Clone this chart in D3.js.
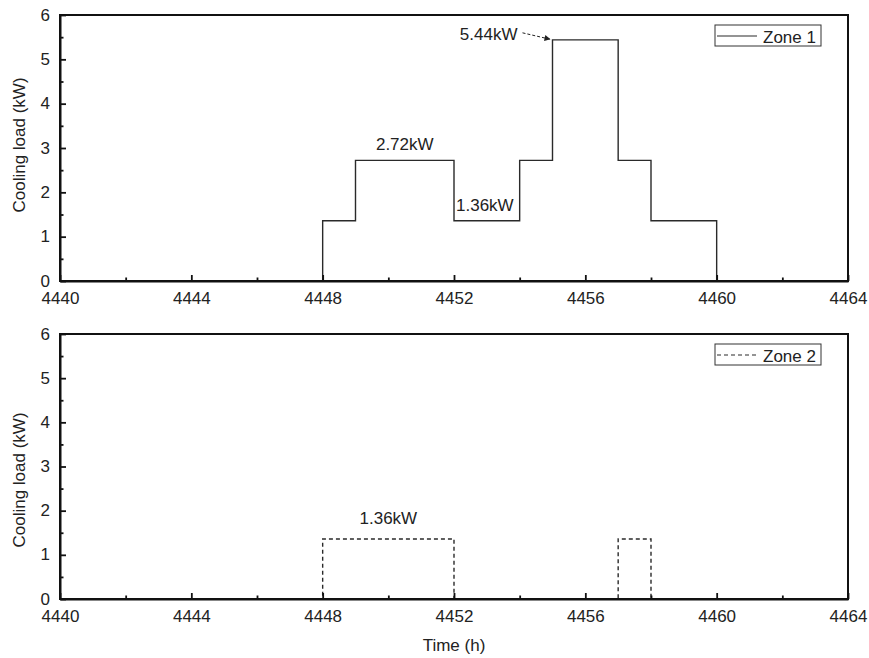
<!DOCTYPE html>
<html>
<head>
<meta charset="utf-8">
<script src="https://cdn.jsdelivr.net/npm/d3@7"></script>
<style>
  body { margin: 0; background: #fff; }
  svg text { font-family: "Liberation Sans", Arial, sans-serif; fill: #222; }
</style>
</head>
<body>
<svg width="869" height="658"></svg>
<script>
// hourly time stamps and cooling load of each zone (kW), held until next hour
var hours = d3.range(4440, 4465);
var zone1Load = [0,0,0,0,0,0,0,0,1.36,2.72,2.72,2.72,1.36,1.36,2.72,5.44,5.44,2.72,1.36,1.36,0,0,0,0,0];
var zone2Load = [0,0,0,0,0,0,0,0,1.36,1.36,1.36,1.36,0,0,0,0,0,1.36,0,0,0,0,0,0,0];
var xMajorTicks = [4440, 4444, 4448, 4452, 4456, 4460, 4464];
var xMinorTicks = [4442, 4446, 4450, 4454, 4458, 4462];
var yMajorTicks = [0, 1, 2, 3, 4, 5, 6];
var yMinorTicks = [0.5, 1.5, 2.5, 3.5, 4.5, 5.5];

var svg = d3.select("svg"),
    left = 60, right = 848,
    width = right - left;

var x = d3.scaleLinear().domain([4440, 4464]).range([0, width]);

function drawPanel(top, height, values, dashed, legendText, labelY, notes) {
    var g = svg.append("g").attr("transform", "translate(" + left + "," + top + ")");
    var y = d3.scaleLinear().domain([0, 6]).range([height, 0]);

    var line = d3.line()
        .x(function(d) { return x(d.t); })
        .y(function(d) { return y(d.v); })
        .curve(d3.curveStepAfter);
    var data = hours.map(function(t, i) { return {t: t, v: values[i]}; });

    g.append("path")
        .datum(data)
        .attr("fill", "none")
        .attr("stroke", "#2a2a2a")
        .attr("stroke-width", 1.4)
        .attr("stroke-dasharray", dashed ? "4,3" : null)
        .attr("d", line);

    // frame (top and right)
    g.append("rect")
        .attr("width", width).attr("height", height)
        .attr("fill", "none").attr("stroke", "#111").attr("stroke-width", 2);

    // x axis
    var xa = g.append("g").attr("transform", "translate(0," + height + ")")
        .call(d3.axisBottom(x).tickValues(xMajorTicks).tickFormat(d3.format("d"))
            .tickSizeInner(-6).tickSizeOuter(0).tickPadding(11));
    g.append("g").attr("transform", "translate(0," + height + ")")
        .call(d3.axisBottom(x).tickValues(xMinorTicks).tickFormat("")
            .tickSizeInner(-3.5).tickSizeOuter(0))
        .select(".domain").remove();

    // y axis
    var ya = g.append("g")
        .call(d3.axisLeft(y).tickValues(yMajorTicks).tickFormat(d3.format("d"))
            .tickSizeInner(-6).tickSizeOuter(0).tickPadding(10));
    g.append("g")
        .call(d3.axisLeft(y).tickValues(yMinorTicks).tickFormat("")
            .tickSizeInner(-3.5).tickSizeOuter(0))
        .select(".domain").remove();

    svg.selectAll(".domain").attr("stroke", "#111").attr("stroke-width", 2);
    svg.selectAll(".tick line").attr("stroke", "#111").attr("stroke-width", 1.8);
    xa.selectAll("text").attr("font-size", 17).attr("font-family", null);
    ya.selectAll("text").attr("font-size", 17).attr("font-family", null).attr("dy", "0.3em");

    svg.append("text")
        .attr("transform", "translate(25," + labelY + ") rotate(-90)")
        .attr("text-anchor", "middle")
        .attr("font-size", 17)
        .text("Cooling load (kW)");

    // legend
    var lg = g.append("g").attr("transform", "translate(" + (width - 133) + ",10)");
    lg.append("rect").attr("width", 106).attr("height", 21)
        .attr("fill", "#fff").attr("stroke", "#333").attr("stroke-width", 1);
    lg.append("line").attr("x1", 2).attr("x2", 42).attr("y1", 11).attr("y2", 11)
        .attr("stroke", "#2a2a2a").attr("stroke-width", 1.2)
        .attr("stroke-dasharray", dashed ? "4,3" : null);
    lg.append("text").attr("x", 48).attr("y", 17.5).attr("font-size", 17).text(legendText);

    notes.forEach(function(n) {
        g.append("text")
            .attr("x", x(n.t) + n.dx).attr("y", y(n.v) + n.dy)
            .attr("text-anchor", n.anchor)
            .attr("font-size", 17)
            .text(n.text);
    });
    return {g: g, y: y};
}

var p1 = drawPanel(15, 266, zone1Load, false, "Zone 1", 145, [
    {t: 4450.5, v: 2.72, text: "2.72kW", anchor: "middle", dx: 0, dy: -10},
    {t: 4452, v: 1.36, text: "1.36kW", anchor: "start", dx: 2, dy: -10},
    {t: 4455, v: 5.44, text: "5.44kW", anchor: "end", dx: -35, dy: 0}
]);
var p2 = drawPanel(334, 265, zone2Load, true, "Zone 2", 480, [
    {t: 4450, v: 1.36, text: "1.36kW", anchor: "middle", dx: 0, dy: -15}
]);

// arrow pointing at the 5.44 kW peak
svg.append("defs").append("marker")
    .attr("id", "arrow").attr("viewBox", "0 0 10 10")
    .attr("refX", 10).attr("refY", 5)
    .attr("markerWidth", 9).attr("markerHeight", 6)
    .attr("orient", "auto")
    .append("path").attr("d", "M0,0L10,5L0,10Z").attr("fill", "#222");
p1.g.append("line")
    .attr("x1", x(4455) - 30).attr("y1", p1.y(5.44) - 7)
    .attr("x2", x(4455) - 2).attr("y2", p1.y(5.44) - 0.5)
    .attr("stroke", "#222").attr("stroke-width", 1)
    .attr("stroke-dasharray", "3,2")
    .attr("marker-end", "url(#arrow)");

svg.append("text")
    .attr("x", left + width / 2).attr("y", 651)
    .attr("text-anchor", "middle")
    .attr("font-size", 17)
    .text("Time (h)");
</script>
</body>
</html>
